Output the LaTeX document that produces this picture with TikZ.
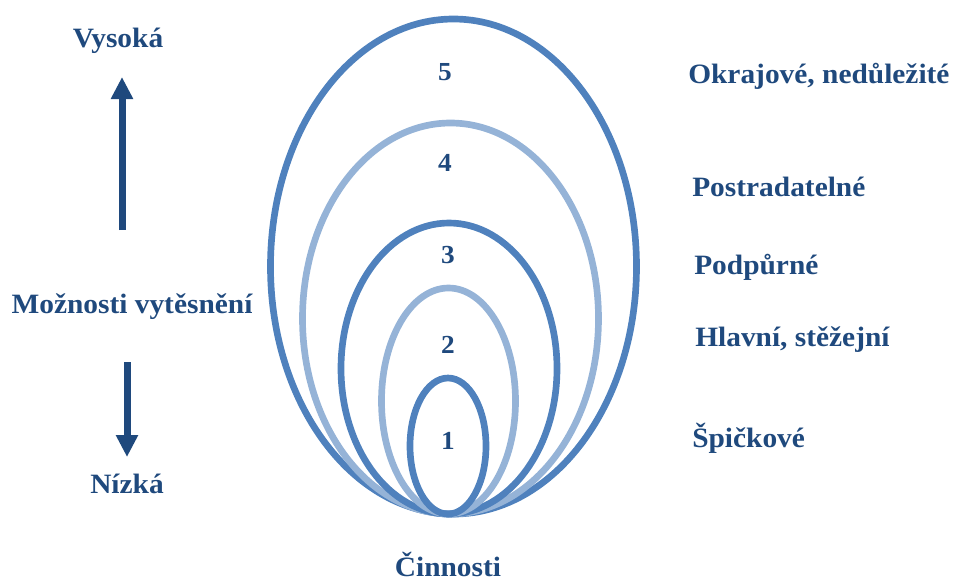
\documentclass[tikz,border=0pt]{standalone}
\usepackage{fontspec}
\setmainfont[FakeStretch=1.05]{Liberation Serif}
\usetikzlibrary{arrows.meta}

\definecolor{ringdark}{HTML}{4F81BD}
\definecolor{ringlight}{HTML}{95B3D7}
\definecolor{textblue}{HTML}{1F497D}

\begin{document}
\begin{tikzpicture}[x=0.75pt,y=0.75pt,
    ring/.style={line width=5pt,ringdark},
    ringsoft/.style={line width=5pt,ringlight},
    lbl/.style={text=textblue,font=\bfseries\fontsize{21}{25}\selectfont,inner sep=0pt},
    num/.style={text=textblue,font=\bfseries\fontsize{19.5}{23}\selectfont,inner sep=0pt},
    arr/.style={textblue,line width=5.25pt,-{Triangle[length=16.5pt,width=15.75pt]}}]
  \useasboundingbox (0,0) rectangle (954,-583);

  % nested rings, all touching at the bottom
  \draw[ring]     (453.5,-266.5) ellipse [x radius=183, y radius=247.5];
  \draw[ringsoft] (450.5,-318.5) ellipse [x radius=148, y radius=195.5];
  \draw[ring]     (449,-368.5)   ellipse [x radius=108, y radius=145.5];
  \draw[ringsoft] (448.5,-401)   ellipse [x radius=67,  y radius=113];
  \draw[ring]     (448,-446)     ellipse [x radius=38,  y radius=68];

  \node[num] (n5) at (445,-72)  {5};
  \node[num] (n4) at (445,-163) {4};
  \node[num] (n3) at (448,-255) {3};
  \node[num] (n2) at (448,-345) {2};
  \node[num] (n1) at (448,-441) {1};

  \node[lbl] (act) at (448,-564) {Činnosti};

  % categories on the right
  \node[lbl,anchor=west] (c5) at (688,-76)  {Okrajové, nedůležité};
  \node[lbl,anchor=west] (c4) at (692,-187) {Postradatelné};
  \node[lbl,anchor=west] (c3) at (694,-267) {Podpůrné};
  \node[lbl,anchor=west] (c2) at (695,-340) {Hlavní, stěžejní};
  \node[lbl,anchor=west] (c1) at (692,-438) {Špičkové};

  % scale on the left
  \node[lbl] (hi)  at (118,-41)  {Vysoká};
  \node[lbl] (mid) at (132,-307) {Možnosti vytěsnění};
  \node[lbl] (lo)  at (127,-484) {Nízká};

  \coordinate (upA) at (122,-230);
  \coordinate (upB) at (122,-77);
  \coordinate (dnA) at (127,-362);
  \coordinate (dnB) at (127,-457);
  \draw[arr] (upA) -- (upB);
  \draw[arr] (dnA) -- (dnB);
\end{tikzpicture}
\end{document}
